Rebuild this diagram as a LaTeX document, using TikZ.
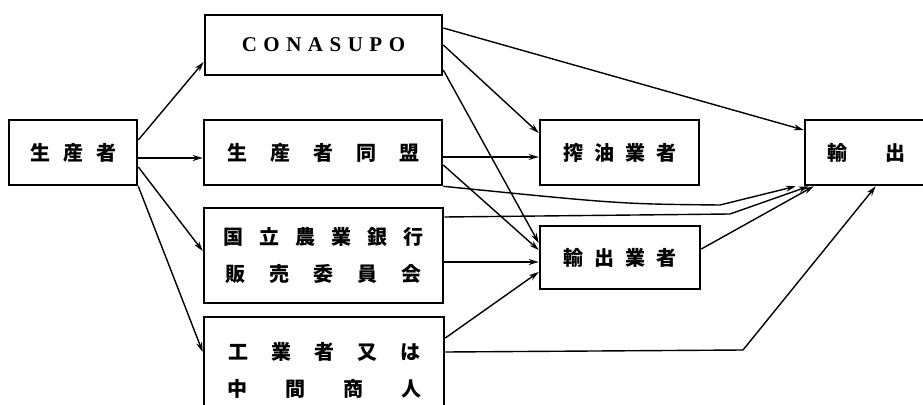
\documentclass[tikz,border=0pt]{standalone}
\usepackage{fontspec}
\setmainfont{Liberation Serif}
\newfontfamily\jp{Noto Sans CJK JP}
\usetikzlibrary{arrows.meta}
\begin{document}
\begin{tikzpicture}[x=1pt,y=-1pt,
  box/.style={draw,line width=2.6pt,inner sep=0pt,align=center,
    font=\jp\bfseries\fontsize{20pt}{37pt}\selectfont},
  conn/.style={line width=1.4pt,-{Stealth[length=10pt,width=6pt]}}]
\path[use as bounding box,clip] (0,0) rectangle (923,404);
\fill[white] (0,0) rectangle (923,404);

\node[box,minimum width=128pt,minimum height=65pt] (prod) at (73,152.5)
  {生\hspace{13pt}産\hspace{13pt}者};
\node[box,minimum width=237pt,minimum height=60pt,
  font=\bfseries\fontsize{21pt}{24pt}\selectfont] (cona) at (323.5,45)
  {C\hspace{6.5pt}O\hspace{6.5pt}N\hspace{6.5pt}A\hspace{6.5pt}S\hspace{6.5pt}U\hspace{6.5pt}P\hspace{6.5pt}O};
\node[box,minimum width=238pt,minimum height=65pt] (union) at (323,152.5)
  {生\hspace{23pt}産\hspace{23pt}者\hspace{23pt}同\hspace{23pt}盟};
\node[box,minimum width=239pt,minimum height=95pt] (bank) at (323.5,255.5)
  {国\hspace{16pt}立\hspace{16pt}農\hspace{16pt}業\hspace{16pt}銀\hspace{16pt}行\\
   販\hspace{24pt}売\hspace{24pt}委\hspace{24pt}員\hspace{24pt}会};
\node[box,minimum width=240pt,minimum height=106pt] (ind) at (324,370)
  {工\hspace{23pt}業\hspace{23pt}者\hspace{23pt}又\hspace{23pt}は\\
   中\hspace{38pt}間\hspace{38pt}商\hspace{38pt}人};
\node[box,minimum width=159pt,minimum height=65pt] (oil) at (619.5,152.5)
  {搾\hspace{11pt}油\hspace{11pt}業\hspace{11pt}者};
\node[box,minimum width=160pt,minimum height=63pt] (expb) at (620,257.5)
  {輸\hspace{11pt}出\hspace{11pt}業\hspace{11pt}者};
\node[box,minimum width=122pt,minimum height=65pt] (exp) at (866,152.5)
  {輸\hspace{38pt}出};

\coordinate (ba) at (720,205);
\coordinate (bb) at (730,214);
\coordinate (bc) at (743,350);

% from producers
\draw[conn] (prod.east |- 0,140) -- (cona.west |- 0,62);
\draw[conn] (prod.east |- 0,158) -- (union.west |- 0,158);
\draw[conn] (prod.east |- 0,167) -- (bank.west |- 0,251);
\draw[conn] (prod.south east) -- (ind.west |- 0,352);

% from CONASUPO
\draw[conn] (cona.east |- 0,28) -- (exp.west |- 0,130);
\draw[conn] (cona.east |- 0,45) -- (oil.west |- 0,133);
\draw[conn] (cona.east |- 0,70) -- (expb.west |- 0,243);

% from producers' union
\draw[conn] (union.east |- 0,157) -- (oil.west |- 0,157);
\draw[conn] (union.east |- 0,165) -- (expb.west |- 0,250);
\draw[conn] (union.south east) .. controls (620,204) .. (ba) -- ([xshift=-8pt]exp.south west);

% from bank
\draw[conn] (bank.east |- 0,217) -- (bb) -- ([xshift=5pt]exp.south west);
\draw[conn] (bank.east |- 0,262) -- (expb.west |- 0,262);

% from industry / middlemen
\draw[conn] (ind.east |- 0,338) -- (expb.west |- 0,272);
\draw[conn] (ind.east |- 0,352) -- (bc) -- ([xshift=72pt]exp.south west);

% exporters to export
\draw[conn] (expb.east |- 0,249) -- ([xshift=10pt]exp.south west);
\end{tikzpicture}
\end{document}
